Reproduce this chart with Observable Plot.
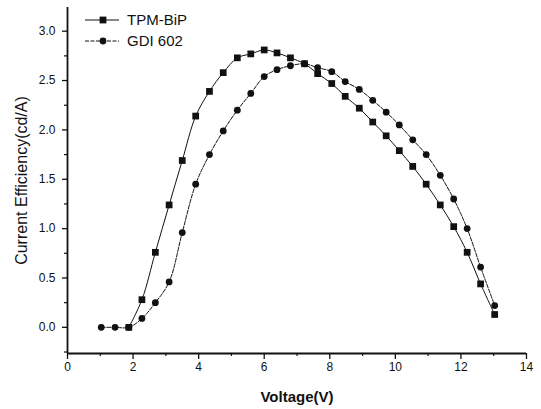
<!DOCTYPE html>
<html><head><meta charset="utf-8">
<script src="https://cdn.jsdelivr.net/npm/d3@7"></script>
<script src="https://cdn.jsdelivr.net/npm/@observablehq/plot@0.6"></script>
<style>
body{margin:0;background:#fff;}
#wrap{position:relative;width:541px;height:409px;font-family:Arial,"Liberation Sans",sans-serif;}
#legend{position:absolute;left:0;top:0;}
</style></head><body><div id="wrap"></div>
<script>
const seriesNames = ["TPM-BiP", "GDI 602"];
const voltage = [1.03,1.45,1.87,2.27,2.68,3.10,3.50,3.91,4.33,4.75,5.18,5.59,6.00,6.39,6.80,7.23,7.63,8.06,8.47,8.90,9.31,9.72,10.12,10.53,10.94,11.37,11.78,12.19,12.60,13.03];
const tpmBiP = [null,null,0.00,0.28,0.76,1.24,1.69,2.14,2.39,2.58,2.73,2.77,2.81,2.78,2.73,2.67,2.57,2.47,2.34,2.22,2.08,1.94,1.79,1.63,1.45,1.24,1.02,0.76,0.44,0.13];
const gdi602 = [0,0,0,0.09,0.25,0.46,0.96,1.45,1.75,1.99,2.20,2.37,2.54,2.61,2.65,2.67,2.63,2.59,2.49,2.41,2.30,2.18,2.05,1.90,1.75,1.54,1.30,1.00,0.61,0.22];
const xTicks = [0,2,4,6,8,10,12,14];
const yTicks = [0,0.5,1.0,1.5,2.0,2.5,3.0];
const xLabel = "Voltage(V)";
const yLabel = "Current Efficiency(cd/A)";

const yMin = -0.265, yMax = 3.24;
const tpmRows = voltage.map((v,i)=>({v, e: tpmBiP[i]})).filter(d=>d.e!=null);
const gdiRows = voltage.map((v,i)=>({v, e: gdi602[i]})).filter(d=>d.e!=null);
const ink = "#111";

const chart = Plot.plot({
  width: 541, height: 409,
  marginLeft: 67, marginRight: 15, marginTop: 7, marginBottom: 56,
  x: {domain: [0, 14]},
  y: {domain: [yMin, yMax]},
  style: {fontFamily: 'Arial, "Liberation Sans", sans-serif', color: ink, background: "#fff"},
  marks: [
    Plot.axisX({ticks: xTicks, tickSize: 6, tickPadding: 3, fontSize: 12, label: null, strokeWidth: 1.3}),
    Plot.axisX({ticks: d3.range(1, 14, 2), tickSize: 3, text: null, label: null, strokeWidth: 1.2}),
    Plot.axisY({ticks: yTicks, tickSize: 5, tickPadding: 7, tickFormat: d3.format(".1f"), fontSize: 12, label: null, strokeWidth: 1.3}),
    Plot.axisY({ticks: d3.range(-0.25, 3.24, 0.5), tickSize: 3, text: null, label: null, strokeWidth: 1.2}),
    Plot.ruleX([0], {stroke: ink, strokeWidth: 1.8}),
    Plot.ruleY([yMin], {stroke: ink, strokeWidth: 1.8}),
    Plot.line(tpmRows, {x: "v", y: "e", curve: "catmull-rom", stroke: ink, strokeWidth: 1}),
    Plot.line(gdiRows, {x: "v", y: "e", curve: "catmull-rom", stroke: ink, strokeWidth: 1, strokeDasharray: "4,1.5"}),
    Plot.dot(tpmRows, {x: "v", y: "e", symbol: "square", r: 3.8, fill: ink, stroke: null}),
    Plot.dot(gdiRows, {x: "v", y: "e", symbol: "circle", r: 3.4, fill: ink, stroke: null}),
    Plot.text([xLabel], {frameAnchor: "bottom", dy: 44, lineAnchor: "middle", textAnchor: "middle", fontSize: 15, fontWeight: "bold", fill: ink}),
    Plot.text([yLabel], {frameAnchor: "left", dx: -46, rotate: -90, textAnchor: "middle", lineAnchor: "middle", fontSize: 16, fill: ink})
  ]
});
const wrap = document.getElementById("wrap");
wrap.appendChild(chart);

// legend
const legend = d3.select(wrap).append("svg").attr("id","legend").attr("width",220).attr("height",55);
const rowsY = [20, 41];
seriesNames.forEach((name,i)=>{
  const g = legend.append("g").attr("transform",`translate(0,${rowsY[i]})`);
  g.append("line").attr("x1",85).attr("x2",119).attr("y1",0).attr("y2",0).attr("stroke",ink).attr("stroke-width",1)
    .attr("stroke-dasharray", i===1 ? "4,1.5" : null);
  if(i===0) g.append("rect").attr("x",103-3.4).attr("y",-3.4).attr("width",6.8).attr("height",6.8).attr("fill",ink);
  else g.append("circle").attr("cx",103).attr("cy",0).attr("r",3.4).attr("fill",ink);
  g.append("text").attr("x",127).attr("y",0).attr("dy","0.35em").attr("font-size",15)
    .attr("font-family",'Arial, "Liberation Sans", sans-serif').attr("fill",ink).text(name);
});
</script></body></html>
